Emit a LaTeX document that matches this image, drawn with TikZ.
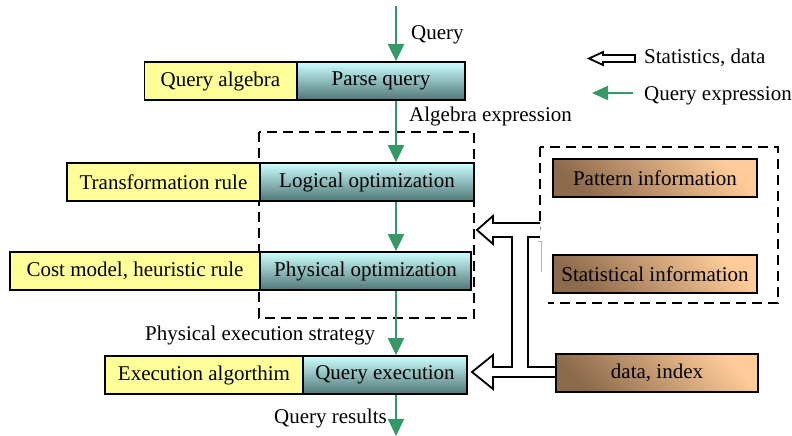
\documentclass[tikz,border=0pt]{standalone}
\usepackage{fontspec}
\setmainfont{Liberation Serif}
\usetikzlibrary{arrows.meta}
\definecolor{boxyellow}{RGB}{255,255,153}
\definecolor{cyanL}{RGB}{204,255,255}
\definecolor{cyanD}{RGB}{80,118,118}
\definecolor{brownL}{RGB}{255,204,153}
\definecolor{brownD}{RGB}{140,106,76}
\definecolor{qgreen}{RGB}{51,153,102}
\begin{document}
\begin{tikzpicture}[x=1pt,y=-1pt,
  every node/.style={font=\fontsize{21}{25}\selectfont, inner sep=0pt},
  box/.style={draw=black, line width=1.8pt, minimum height=38pt, anchor=center},
  ybox/.style={box, fill=boxyellow},
  cbox/.style={box, top color=cyanL, bottom color=cyanD},
  bbox/.style={box, top color=brownL, bottom color=brownD, shading angle=-45},
  garrow/.style={draw=qgreen, line width=2pt, -{Triangle[length=17pt,width=16pt]}},
  dashbox/.style={draw=black, line width=2.2pt, dash pattern=on 10pt off 6pt},
  hollow/.style={draw=black, line width=1.8pt, fill=white, line join=miter}
  ]
\useasboundingbox (0,0) rectangle (792,436);

% dashed boxes
\draw[dashbox] (259,132) rectangle (474,318);
\draw[dashbox] (540,147) rectangle (778,303);

% left column boxes
\node[ybox, minimum width=152pt] (qa) at (220.5,81) {Query algebra};
\node[cbox, minimum width=168pt] (pq) at (381,81) {Parse query};
\node[ybox, minimum width=193pt] (tr) at (163.5,182) {Transformation rule};
\node[cbox, minimum width=214pt] (lo) at (367,182) {Logical optimization};
\node[ybox, minimum width=250pt] (cm) at (135,271) {Cost model, heuristic rule};
\node[cbox, minimum width=211pt] (po) at (365.5,271) {Physical optimization};
\node[ybox, minimum width=198pt] (ea) at (204,375) {Execution algorthim};
\node[cbox, minimum width=164pt] (qe) at (385,375) {Query execution};

% right boxes
\node[bbox, minimum width=204pt] (pi) at (655,178) {Pattern information};
\node[bbox, minimum width=204pt] (si) at (655,274) {Statistical information};
\node[bbox, minimum width=202pt] (di) at (657,373) {data, index};

% green flow
\coordinate (ax) at (396,0);
\coordinate (qin) at (396,6);
\coordinate (qout) at (396,436);
\draw[garrow] (qin) -- (qin |- pq.north);
\draw[garrow] (pq.south -| ax) -- (lo.north -| ax);
\draw[garrow] (lo.south -| ax) -- (po.north -| ax);
\draw[garrow] (po.south -| ax) -- (qe.north -| ax);
\draw[garrow] (qe.south -| ax) -- (qout);

% flow labels
\node[anchor=west] (lq) at (411,35) {Query};
\node[anchor=west] (lae) at (409,116) {Algebra expression};
\node[anchor=west] (lpe) at (145,335) {Physical execution strategy};
\node[anchor=west] (lqr) at (274,418) {Query results};

% hollow arrows (statistics, data)
\path[hollow] (540,223) -- (493,223) -- (493,216) -- (477,230) -- (493,244) -- (493,237)
  -- (512,237) -- (512,367) -- (493,367) -- (493,355) -- (472,372) -- (493,389)
  -- (493,377) -- (di.west |- 0,377);
\draw[hollow] (540,237) -- (528,237) -- (528,367) -- (di.west |- 0,367);
\draw[gray!60, line width=0.7pt] (538,241) -- (541,241) -- (541,272);

% legend
\path[hollow] (635,55) -- (603,55) -- (603,52) -- (589,58.5) -- (603,65) -- (603,62) -- (635,62) -- cycle;
\node[anchor=west] (lsd) at (644,58) {Statistics, data};
\coordinate (lg1) at (633,93);
\coordinate (lg2) at (592,93);
\draw[draw=qgreen, line width=2pt, -{Triangle[length=16pt,width=14pt]}] (lg1) -- (lg2);
\node[anchor=west] (lqx) at (644,96) {Query expression};
\end{tikzpicture}
\end{document}
